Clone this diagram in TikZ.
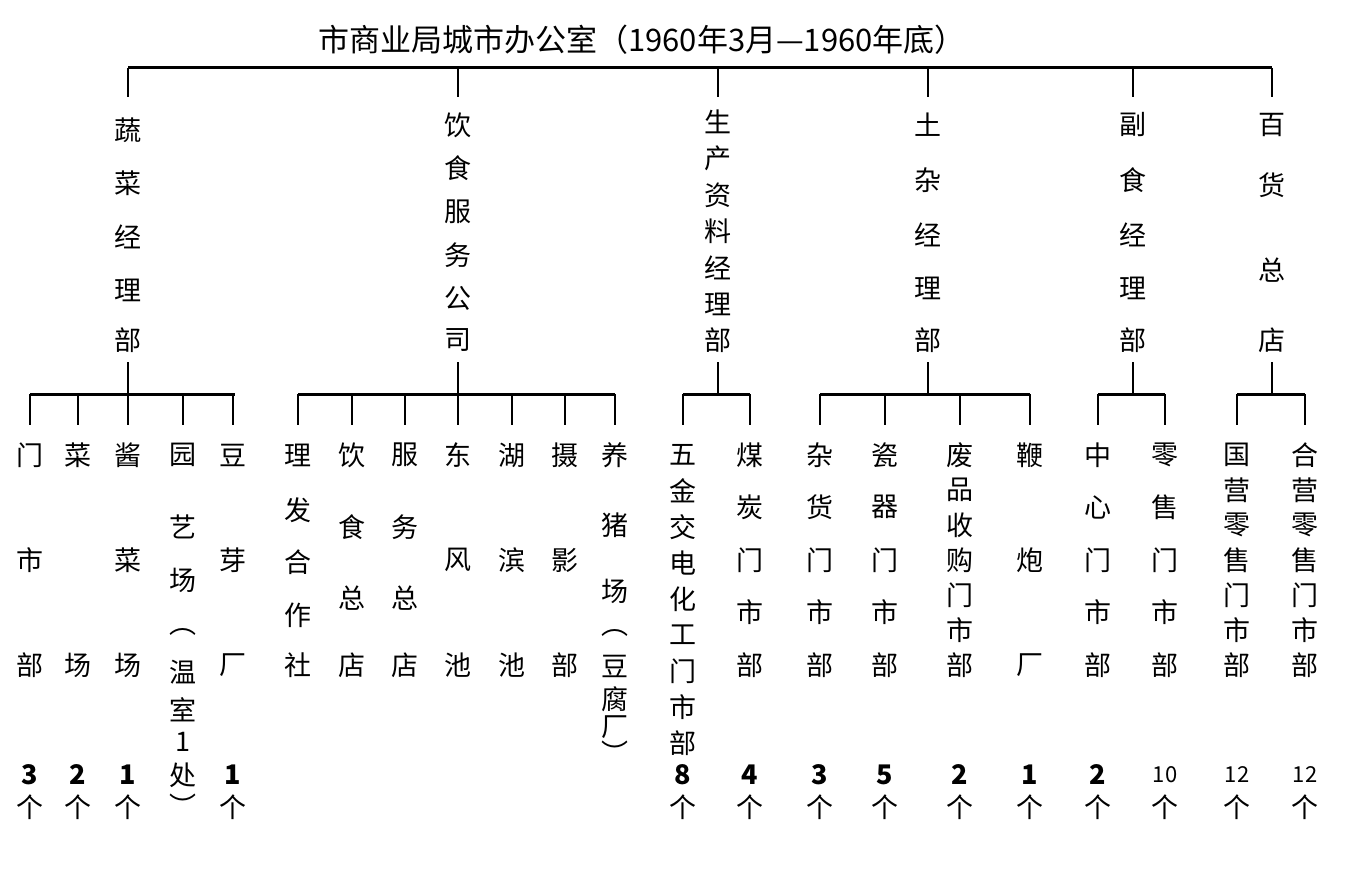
\documentclass[tikz,border=0pt]{standalone}
\usepackage{fontspec}
\setmainfont{Noto Sans CJK SC}
\begin{document}
\begin{tikzpicture}[x=1pt,y=-1pt,
  ch/.style={inner sep=0pt,font=\fontsize{27}{27}\selectfont},
  sm/.style={inner sep=0pt,font=\fontsize{22}{22}\selectfont},
  bar/.style={line width=3pt},
  tick/.style={line width=1.8pt}]
\useasboundingbox[fill=white] (0,0) rectangle (1346,885);
\newcommand\vcol[3]{\foreach \c/\y [count=\i] in {#3} \node[ch] (#1-\i) at (#2,\y) {\c};}
\newcommand\cnt[3]{\node[ch,font=\fontsize{27}{27}\selectfont\bfseries] (#1-n) at (#2,775) {#3};\node[ch] (#1-g) at (#2,807) {个};}
\newcommand\cnts[3]{\node[sm] (#1-n) at (#2,775) {#3};\node[ch] (#1-g) at (#2,807) {个};}
\node[ch,font=\fontsize{31}{31}\selectfont] (title) at (642,40) {市商业局城市办公室（1960年3月—1960年底）};
% top bar
\coordinate (tL) at (128,68); \coordinate (tR) at (1272,68);
\draw[bar] (tL) -- (tR);
\foreach \x in {128,458,718,928,1133,1272} {\coordinate (t\x) at (\x,68); \coordinate (b\x) at (\x,97); \draw[tick] (t\x) -- (b\x);}
% level 1
\vcol{a}{128}{蔬/130,菜/183,经/237,理/290,部/340}
\vcol{b}{458}{饮/125,食/168,服/212,务/255,公/298,司/340}
\vcol{c}{718}{生/122,产/158,资/195,料/231,经/268,理/304,部/340}
\vcol{d}{928}{土/125,杂/180,经/235,理/288,部/340}
\vcol{e}{1133}{副/125,食/180,经/235,理/288,部/340}
\vcol{f}{1272}{百/125,货/185,总/270,店/340}
% second bars
\newcommand\grp[4]{% parent x, left, right, children list
  \coordinate (p#1) at (#1,362); \coordinate (q#1) at (#1,394);
  \draw[tick] (p#1) -- (q#1);
  \coordinate (l#1) at (#2,394); \coordinate (r#1) at (#3,394);
  \draw[bar] (l#1) -- (r#1);
  \foreach \x in {#4} {\coordinate (u\x) at (\x,394); \coordinate (v\x) at (\x,425); \draw[tick] (u\x) -- (v\x);}}
\grp{128}{30}{235}{30,78,128,183,233}
\grp{458}{298}{615}{298,352,405,458,512,565,615}
\grp{718}{683}{750}{683,750}
\grp{928}{820}{1030}{820,885,960,1030}
\grp{1133}{1098}{1165}{1098,1165}
\grp{1272}{1237}{1305}{1237,1305}
% children
\vcol{a1}{30}{门/455,市/560,部/665}
\vcol{a2}{78}{菜/455,场/665}
\vcol{a3}{128}{酱/455,菜/560,场/665}
\vcol{a4}{183}{园/455,艺/527,场/580,︵/632,温/672,室/710,1/742,处/775,︶/805}
\vcol{a5}{233}{豆/455,芽/560,厂/665}
\cnt{a1}{30}{3}\cnt{a2}{78}{2}\cnt{a3}{128}{1}\cnt{a5}{233}{1}
\vcol{b1}{298}{理/455,发/510,合/562,作/615,社/665}
\vcol{b2}{352}{饮/455,食/527,总/598,店/665}
\vcol{b3}{405}{服/455,务/527,总/598,店/665}
\vcol{b4}{458}{东/455,风/560,池/665}
\vcol{b5}{512}{湖/455,滨/560,池/665}
\vcol{b6}{565}{摄/455,影/560,部/665}
\vcol{b7}{615}{养/455,猪/525,场/591,︵/633,豆/666,腐/699,厂/727,︶/752}
\vcol{c1}{683}{五/455,金/491,交/527,电/563,化/599,工/635,门/671,市/707,部/743}
\vcol{c2}{750}{煤/455,炭/507,门/560,市/612,部/665}
\cnt{c1}{683}{8}\cnt{c2}{750}{4}
\vcol{d1}{820}{杂/455,货/507,门/560,市/612,部/665}
\vcol{d2}{885}{瓷/455,器/507,门/560,市/612,部/665}
\vcol{d3}{960}{废/455,品/490,收/525,购/560,门/595,市/630,部/665}
\vcol{d4}{1030}{鞭/455,炮/560,厂/665}
\cnt{d1}{820}{3}\cnt{d2}{885}{5}\cnt{d3}{960}{2}\cnt{d4}{1030}{1}
\vcol{e1}{1098}{中/455,心/507,门/560,市/612,部/665}
\vcol{e2}{1165}{零/455,售/507,门/560,市/612,部/665}
\cnt{e1}{1098}{2}\cnts{e2}{1165}{10}
\vcol{f1}{1237}{国/455,营/490,零/525,售/560,门/595,市/630,部/665}
\vcol{f2}{1305}{合/455,营/490,零/525,售/560,门/595,市/630,部/665}
\cnts{f1}{1237}{12}\cnts{f2}{1305}{12}
\end{tikzpicture}
\end{document}
